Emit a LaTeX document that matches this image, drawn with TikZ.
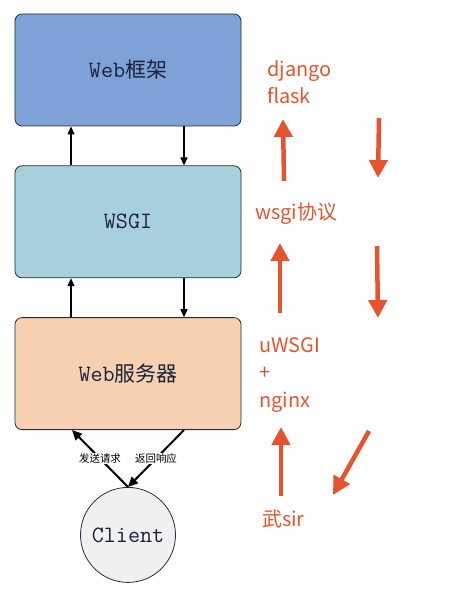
\documentclass[tikz,border=0pt]{standalone}
\usepackage{fontspec}
\newfontfamily\cjkfont{Noto Sans CJK SC}
\usetikzlibrary{arrows.meta, positioning}
\definecolor{layerline}{RGB}{34,44,64}
\definecolor{layertext}{RGB}{24,34,58}
\definecolor{webblue}{RGB}{126,161,216}
\definecolor{wsgiblue}{RGB}{168,207,220}
\definecolor{serverpeach}{RGB}{246,208,176}
\definecolor{clientgrey}{RGB}{240,240,240}
\definecolor{noteorange}{RGB}{230,83,44}
\tikzset{layer/.style={draw=layerline, rounded corners=7bp, line width=0.8bp, minimum width=226bp, minimum height=112bp, text=layertext, font=\fontsize{23.5}{26}\selectfont\ttfamily}}
\tikzset{layerweb/.style={layer, fill=webblue}}
\tikzset{layerwsgi/.style={layer, fill=wsgiblue}}
\tikzset{layerserver/.style={layer, fill=serverpeach}}
\tikzset{flow/.style={line width=1.2bp, -{Triangle[width=7bp, length=8bp]}}}
\tikzset{reqarrow/.style={line width=2bp, -{Triangle[width=9bp, length=10bp]}}}
\tikzset{tag/.style={fill=white, inner sep=1bp, font=\fontsize{10.5}{12}\selectfont\cjkfont}}
\tikzset{note/.style={anchor=west, inner sep=0pt, align=left, text=noteorange, font=\fontsize{20}{27.5}\selectfont\cjkfont}}
\tikzset{hint/.style={draw=noteorange, line width=4.5bp, -{Triangle[width=18bp, length=18bp]}}}

\begin{document}
\begin{tikzpicture}[x=1bp, y=-1bp]
            \useasboundingbox (0, 0) rectangle (464, 594);

            \node [layerweb] (framework) at (128, 70) { Web{\cjkfont\fontsize{21}{24}\selectfont 框架} };
            \node [layerwsgi, below=39bp of framework] (wsgi) { WSGI };
            \node [layerserver, below=39bp of wsgi] (server) { Web{\cjkfont\fontsize{21}{24}\selectfont 服务器} };
            \node [draw=layerline, circle, fill=clientgrey, line width=0.8bp, inner sep=0pt, minimum size=95bp, text=layertext,
                   font=\fontsize{23.5}{26}\selectfont\ttfamily, below=57bp of server] (client) { Client };

            \draw [flow] ([xshift=-57bp]wsgi.north) -- ([xshift=-57bp]framework.south);
            \draw [flow] ([xshift=56bp]framework.south) -- ([xshift=56bp]wsgi.north);
            \draw [flow] ([xshift=-57bp]server.north) -- ([xshift=-57bp]wsgi.south);
            \draw [flow] ([xshift=56bp]wsgi.south) -- ([xshift=56bp]server.north);

            \draw [reqarrow] (client.north) -- node [tag] { 发送请求 } ([xshift=-56bp]server.south);
            \draw [reqarrow] ([xshift=56bp]server.south) -- node [tag] { 返回响应 } (client.north);

            \node [note] (apps) at (267, 82) { django\\flask };
            \node [note] (proto) at (255, 214) { wsgi协议 };
            \node [note] (servers) at (259, 375) { uWSGI\\+\\nginx };
            \node [note] (user) at (262, 519) { 武sir };

            \draw [hint] (284, 181) -- (283, 119);
            \draw [hint] (379, 118) -- (378, 178);
            \draw [hint] (280, 313) -- (280, 243);
            \draw [hint] (377, 246) -- (378, 318);
            \draw [hint] (281, 496) -- (281, 427);
            \draw [hint] (369, 431) -- (333, 495);
        \end{tikzpicture}
\end{document}
